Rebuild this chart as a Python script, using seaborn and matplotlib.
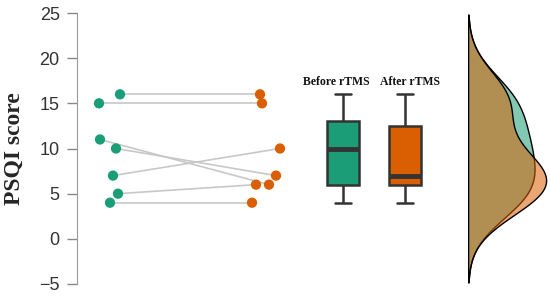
import pandas as pd
import matplotlib
matplotlib.use("Agg")
import matplotlib.pyplot as plt
import seaborn as sns

# PSQI scores per subject, before and after rTMS
before = [16, 15, 11, 10, 7, 5, 4]
after = [16, 15, 6, 7, 10, 6, 4]
# horizontal jitter of each dot
jit_before = [10, -11, -10, 6, 3, 8, 0]
jit_after = [-6, -4, 3, 10, 14, -10, -14]
groups = ["Before rTMS", "After rTMS"]
yticks = [-5, 0, 5, 10, 15, 20, 25]

green = "#1b9e77"
orange = "#d95f02"

sns.set_style("white")
plt.rcParams["font.family"] = ["Liberation Sans", "DejaVu Sans"]

# x axis in pixel-like units
dot_x = {"Before rTMS": 110, "After rTMS": 266}
box_x = {"Before rTMS": 343, "After rTMS": 405}
label_x = {"Before rTMS": 336, "After rTMS": 410}

rows = []
for i in range(len(before)):
    rows.append(dict(subject=i, group=groups[0], score=before[i],
                     x=dot_x[groups[0]] + jit_before[i], bx=box_x[groups[0]]))
    rows.append(dict(subject=i, group=groups[1], score=after[i],
                     x=dot_x[groups[1]] + jit_after[i], bx=box_x[groups[1]]))
df = pd.DataFrame(rows)

fig = plt.figure(figsize=(5.5, 2.97), dpi=100)
bottom = 13 / 297
height = 271 / 297
ax = fig.add_axes([77 / 550, bottom, 473 / 550, height])

# paired lines
sns.lineplot(data=df, x="x", y="score", units="subject", estimator=None,
             color="#c8c8c8", linewidth=1.2, ax=ax, legend=False)
# dots
sns.scatterplot(data=df, x="x", y="score", hue="group",
                palette=[green, orange], s=55, edgecolor="none",
                ax=ax, legend=False, zorder=3)
# boxes
sns.boxplot(data=df, x="bx", y="score", hue="group", native_scale=True,
            palette=[green, orange], width=0.53, dodge=False, ax=ax,
            legend=False, saturation=1, linecolor="#333333", linewidth=1.8,
            medianprops=dict(linewidth=3.5, color="#333333"))

for g in groups:
    ax.text(label_x[g], 17, g, ha="center", va="baseline", fontsize=8.5,
            fontweight="bold", family=["Liberation Serif"], color="#111111")

ax.set_xlim(77, 550)
ax.set_ylim(-5, 25)
ax.set_yticks(yticks)
ax.tick_params(axis="y", labelsize=13, labelcolor="#333333", length=7.5,
               color="#888888", left=True, width=1, pad=5)
ax.set_xticks([])
ax.set_xlabel("")
ax.set_ylabel("PSQI score", fontsize=17, fontweight="bold",
              family=["Liberation Serif"], labelpad=10)
for s in ["top", "right", "bottom"]:
    ax.spines[s].set_visible(False)
ax.spines["left"].set_color("#999999")

# density cloud on the right
ax2 = fig.add_axes([468 / 550, bottom, 82 / 550, height], sharey=ax)
sns.kdeplot(y=before, fill=True, color=green, alpha=0.55, cut=3,
            clip=(-4.8, 24.8), edgecolor="black", linewidth=1, ax=ax2)
sns.kdeplot(y=after, fill=True, color=orange, alpha=0.55, cut=3,
            clip=(-4.8, 24.8), edgecolor="black", linewidth=1, ax=ax2)
ax2.set_xlim(0, None)
ax2.axis("off")

fig.savefig("out.png", dpi=100)
